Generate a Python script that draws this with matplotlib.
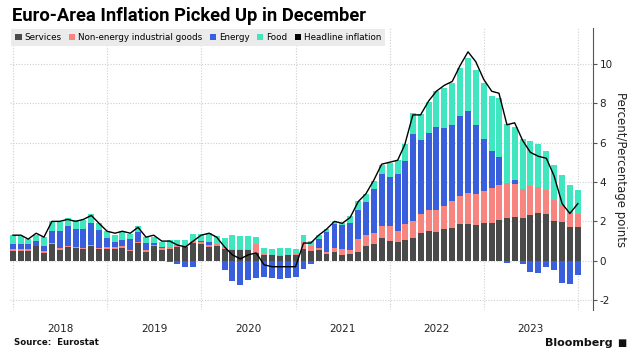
import matplotlib
matplotlib.use("Agg")
import matplotlib.pyplot as plt
import matplotlib.dates as mdates
from matplotlib.patches import Patch
import numpy as np
import pandas as pd
import datetime as dt

# Monthly data, Dec 2017 .. Dec 2023 (contributions, percentage points)
start_month = "2017-12-31"
services = [0.51, 0.52, 0.52, 0.73, 0.42, 0.83, 0.56, 0.68, 0.63, 0.59, 0.76, 0.61, 0.61,
            0.62, 0.65, 0.51, 0.88, 0.47, 0.74, 0.56, 0.60, 0.70, 0.70, 0.88, 0.84,
            0.70, 0.74, 0.60, 0.56, 0.56, 0.56, 0.41, 0.30, 0.27, 0.26, 0.27, 0.30,
            0.59, 0.51, 0.56, 0.36, 0.44, 0.30, 0.36, 0.44, 0.73, 0.86, 1.15, 1.00,
            0.97, 1.07, 1.14, 1.40, 1.50, 1.47, 1.60, 1.68, 1.86, 1.86, 1.81, 1.90,
            1.94, 2.05, 2.19, 2.24, 2.15, 2.34, 2.44, 2.37, 2.02, 1.98, 1.71, 1.71]
neig = [0.10, 0.10, 0.10, 0.04, 0.07, 0.07, 0.07, 0.07, 0.07, 0.07, 0.05, 0.05, 0.08,
        0.08, 0.08, 0.06, 0.06, 0.08, 0.06, 0.08, 0.08, 0.08, 0.08, 0.10, 0.13,
        0.08, 0.10, 0.10, 0.06, 0.05, 0.05, 0.42, 0.04, 0.04, 0.04, 0.03, 0.04,
        0.34, 0.25, 0.08, 0.11, 0.19, 0.32, 0.19, 0.69, 0.56, 0.53, 0.64, 0.77,
        0.55, 0.81, 0.88, 0.99, 1.09, 1.12, 1.17, 1.33, 1.43, 1.59, 1.59, 1.66,
        1.74, 1.81, 1.76, 1.66, 1.51, 1.44, 1.29, 1.24, 1.08, 0.83, 0.71, 0.66]
energy = [0.25, 0.24, 0.24, 0.22, 0.24, 0.59, 0.86, 1.00, 0.93, 0.97, 1.12, 0.92, 0.46,
          0.26, 0.35, 0.52, 0.52, 0.37, 0.11, 0.05, -0.06, -0.18, -0.30, -0.31, 0.02,
          0.18, -0.03, -0.47, -1.00, -1.22, -0.95, -0.85, -0.80, -0.88, -0.90, -0.86, -0.80,
          -0.42, -0.16, 0.45, 0.99, 1.24, 1.20, 1.36, 1.46, 1.67, 2.25, 2.61, 2.47,
          2.88, 3.20, 4.43, 3.75, 3.91, 4.20, 3.96, 3.86, 4.07, 4.15, 3.49, 2.64,
          1.90, 1.41, -0.09, 0.20, -0.17, -0.58, -0.64, -0.32, -0.49, -1.14, -1.19, -0.71]
food = [0.46, 0.38, 0.24, 0.34, 0.46, 0.51, 0.47, 0.42, 0.42, 0.46, 0.42, 0.35, 0.35,
        0.34, 0.44, 0.29, 0.29, 0.30, 0.30, 0.27, 0.36, 0.30, 0.29, 0.38, 0.38,
        0.44, 0.40, 0.46, 0.70, 0.64, 0.64, 0.39, 0.30, 0.30, 0.33, 0.33, 0.25,
        0.37, 0.22, 0.24, 0.15, 0.13, 0.11, 0.35, 0.44, 0.42, 0.42, 0.48, 0.70,
        0.72, 0.86, 1.03, 1.29, 1.54, 1.82, 2.01, 2.17, 2.42, 2.69, 2.79, 2.80,
        2.80, 3.00, 2.97, 2.71, 2.54, 2.32, 2.17, 1.95, 1.78, 1.56, 1.44, 1.24]
headline = [1.3, 1.3, 1.1, 1.4, 1.2, 2.0, 2.0, 2.1, 2.0, 2.1, 2.3, 1.9, 1.5,
            1.4, 1.5, 1.4, 1.7, 1.2, 1.3, 1.0, 1.0, 0.8, 0.7, 1.0, 1.3,
            1.4, 1.2, 0.7, 0.3, 0.1, 0.3, 0.4, -0.2, -0.3, -0.3, -0.3, -0.3,
            0.9, 0.9, 1.3, 1.6, 2.0, 1.9, 2.2, 3.0, 3.4, 4.1, 4.9, 5.0,
            5.1, 5.9, 7.4, 7.4, 8.1, 8.6, 8.9, 9.1, 9.9, 10.6, 10.1, 9.2,
            8.6, 8.5, 6.9, 7.0, 6.1, 5.5, 5.3, 5.2, 4.3, 2.9, 2.4, 2.9]
years = [2018, 2019, 2020, 2021, 2022, 2023]
series_names = ["Services", "Non-energy industrial goods", "Energy", "Food"]
colors = ["#4a4a4a", "#f7847e", "#3a5fdc", "#3fe6bf"]

dates = pd.date_range(start_month, periods=len(headline), freq="ME")
x = mdates.date2num(dates.to_pydatetime())

fig = plt.figure(figsize=(6.34, 3.61), dpi=100)
ax = fig.add_axes([0.016, 0.141, 0.919, 0.781])

pos_bottom = np.zeros(len(x))
neg_bottom = np.zeros(len(x))
for vals, c in zip([services, neig, energy, food], colors):
    v = np.array(vals)
    bottoms = np.where(v >= 0, pos_bottom, neg_bottom)
    ax.bar(x, v, bottom=bottoms, width=23, color=c, linewidth=0, zorder=2)
    pos_bottom = pos_bottom + np.where(v >= 0, v, 0)
    neg_bottom = neg_bottom + np.where(v < 0, v, 0)

ax.plot(x, headline, color="black", lw=1.0, zorder=3)

ax.set_xlim(mdates.date2num(dt.datetime(2017, 12, 20)), mdates.date2num(dt.datetime(2024, 2, 27)))
ax.set_ylim(-2.5, 11.8)

# x ticks: year labels mid-year, grid at year starts
ax.set_xticks([mdates.date2num(dt.datetime(y, 7, 2)) for y in years])
ax.set_xticklabels([str(y) for y in years], fontsize=7.5, color="#222222")
ax.set_xticks([mdates.date2num(dt.datetime(y, 1, 1)) for y in years + [2024]], minor=True)
ax.tick_params(axis="x", which="both", length=0, pad=10)
ax.grid(axis="x", which="minor", color="#cfcfcf", linestyle=(0, (1, 1.5)), lw=0.8, zorder=0)

ax.yaxis.tick_right()
ax.yaxis.set_label_position("right")
ax.set_yticks([-2, 0, 2, 4, 6, 8, 10])
ax.set_yticklabels(["-2", "0", "2", "4", "6", "8", "10"], fontsize=7.5, color="#222222")
ax.tick_params(axis="y", length=3, width=0.8, color="#555555", pad=2)
ax.grid(axis="y", color="#cfcfcf", linestyle=(0, (1, 1.5)), lw=0.8, zorder=0)
ax.set_ylabel("Percent/Percentage points", rotation=270, fontsize=8.5, color="#222222", labelpad=10)

for s in ["top", "left", "bottom"]:
    ax.spines[s].set_visible(False)
ax.spines["right"].set_color("#555555")
ax.spines["right"].set_linewidth(0.8)

handles = [Patch(facecolor=c, edgecolor="none") for c in colors] + [Patch(facecolor="black", edgecolor="none")]
labels = series_names + ["Headline inflation"]
leg = ax.legend(handles, labels, loc="upper left", ncol=5, fontsize=6.3, frameon=True,
                facecolor="#ebebeb", edgecolor="none", fancybox=False, framealpha=1,
                handlelength=0.7, handleheight=0.7, handletextpad=0.3, columnspacing=0.9,
                borderpad=0.45, borderaxespad=0.15)
leg.set_zorder(5)

fig.text(0.019, 0.955, "Euro-Area Inflation Picked Up in December", fontsize=13.2,
         family="Roboto", fontweight="bold", va="center", ha="left", color="black")
fig.text(0.022, 0.05, "Source:  Eurostat", fontsize=6.2, fontweight="bold", va="center", ha="left", color="#111111")
fig.text(0.966, 0.05, "Bloomberg", fontsize=8, fontweight="bold", va="center", ha="right", color="#111111")
fig.text(0.981, 0.05, "\u25A0", fontsize=7, va="center", ha="center", color="#111111")

fig.savefig("out.png", dpi=100, facecolor="white")
